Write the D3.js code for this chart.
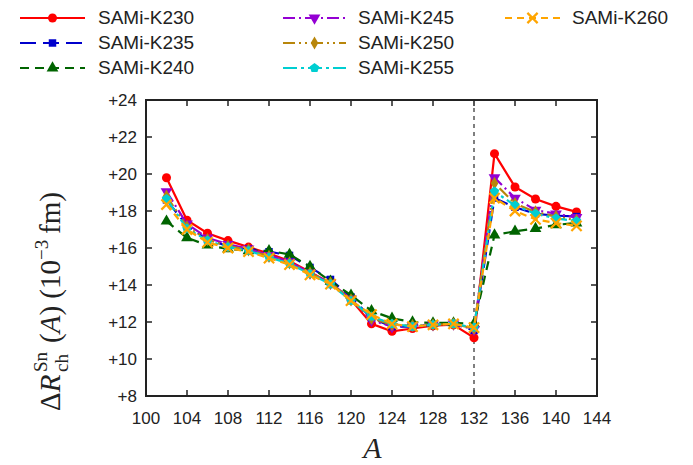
<!DOCTYPE html>
<html>
<head>
<meta charset="utf-8">
<script src="https://cdn.jsdelivr.net/npm/d3@7"></script>
<style>
body { margin: 0; background: #fff; }
text { font-family: "Liberation Sans", sans-serif; }
text.math { font-family: "Liberation Serif", serif; }
</style>
</head>
<body>
<svg id="chart" width="693" height="465"></svg>
<script>
// mass numbers
var massNumbers = [102,104,106,108,110,112,114,116,118,120,122,124,126,128,130,132,134,136,138,140,142];

var k230 = [19.8,17.5,16.8,16.4,16.05,15.7,15.3,14.7,14.1,13.2,11.9,11.5,11.65,11.8,11.85,11.15,21.1,19.3,18.65,18.25,17.95];
var k235 = [18.6,17.2,16.45,16.1,15.95,15.8,15.6,14.95,14.3,13.35,12.2,11.75,11.75,11.85,11.9,11.55,18.7,18.2,17.85,17.75,17.7];
var k240 = [17.45,16.55,16.15,15.95,15.85,15.85,15.65,15.0,14.2,13.45,12.6,12.2,12.0,11.95,11.95,11.9,16.7,16.9,17.05,17.25,17.35];
var k245 = [19.05,17.3,16.55,16.2,15.95,15.6,15.25,14.65,14.1,13.25,12.1,11.75,11.8,11.85,11.9,11.6,19.8,18.7,18.05,17.85,17.65];
var k250 = [18.8,17.15,16.45,16.1,15.9,15.55,15.2,14.65,14.1,13.2,12.2,11.85,11.8,11.85,11.9,11.65,19.5,18.4,17.95,17.7,17.5];
var k255 = [18.65,17.05,16.4,16.05,15.85,15.5,15.15,14.6,14.05,13.15,12.3,11.9,11.75,11.85,11.9,11.7,19.05,18.3,17.85,17.6,17.45];
var k260 = [18.35,17.0,16.3,16.0,15.8,15.45,15.1,14.55,14.05,13.15,12.4,11.9,11.75,11.85,11.9,11.7,18.7,18.0,17.55,17.35,17.2];

var seriesNames = ["SAMi-K230","SAMi-K235","SAMi-K240","SAMi-K245","SAMi-K250","SAMi-K255","SAMi-K260"];
var seriesValues = [k230,k235,k240,k245,k250,k255,k260];

var xTicks = [100,104,108,112,116,120,124,128,132,136,140,144];
var yTicks = [8,10,12,14,16,18,20,22,24];
var shellClosure = 132;

// styles per series
var colors = ["#ff0000","#0000cc","#006400","#9400d3","#b8860b","#00ced1","#ffa500"];
var dashes = [null,"16,7","9,6","12,4,2,4","12,4,2,4,2,4","14,4,3,4","7,5"];

var pentagon = {
	draw: function(context, size){
		var r = Math.sqrt(size / 2.378);
		for (var i = 0; i < 5; i++){
			var a = -Math.PI/2 + i * 2 * Math.PI / 5;
			if (i == 0) context.moveTo(r*Math.cos(a), r*Math.sin(a));
			else context.lineTo(r*Math.cos(a), r*Math.sin(a));
		}
		context.closePath();
	}
};
var markers = [
	{type: d3.symbolCircle, size: 64, rot: 0},
	{type: d3.symbolSquare, size: 56, rot: 0},
	{type: d3.symbolTriangle, size: 60, rot: 0},
	{type: d3.symbolTriangle, size: 60, rot: 180},
	{type: d3.symbolDiamond, size: 50, rot: 0},
	{type: pentagon, size: 60, rot: 0},
	{type: d3.symbolTimes || d3.symbolX, size: 70, rot: 0, stroke: true}
];

var margin = {top: 100, right: 96, bottom: 69, left: 146};
var width = 693 - margin.left - margin.right,
	height = 465 - margin.top - margin.bottom;

var svg = d3.select("#chart");
var chart = svg.append("g")
	.attr("transform", "translate(" + margin.left + "," + margin.top + ")");

var x = d3.scaleLinear().domain([100,144]).range([0, width]);
var y = d3.scaleLinear().domain([8,24]).range([height, 0]);

// ticks all around, pointing inward
var tickLen = 6;
chart.append("g").selectAll("line").data(xTicks).enter().append("line")
	.attr("x1", function(d){return x(d);}).attr("x2", function(d){return x(d);})
	.attr("y1", height).attr("y2", height - tickLen)
	.attr("stroke", "#222").attr("stroke-width", 1.5);
chart.append("g").selectAll("line").data(xTicks).enter().append("line")
	.attr("x1", function(d){return x(d);}).attr("x2", function(d){return x(d);})
	.attr("y1", 0).attr("y2", tickLen)
	.attr("stroke", "#222").attr("stroke-width", 1.5);
chart.append("g").selectAll("line").data(yTicks).enter().append("line")
	.attr("y1", function(d){return y(d);}).attr("y2", function(d){return y(d);})
	.attr("x1", 0).attr("x2", tickLen)
	.attr("stroke", "#222").attr("stroke-width", 1.5);
chart.append("g").selectAll("line").data(yTicks).enter().append("line")
	.attr("y1", function(d){return y(d);}).attr("y2", function(d){return y(d);})
	.attr("x1", width).attr("x2", width - tickLen)
	.attr("stroke", "#222").attr("stroke-width", 1.5);

chart.append("g").selectAll("text").data(xTicks).enter().append("text")
	.attr("x", function(d){return x(d);})
	.attr("y", height + 28)
	.attr("text-anchor", "middle")
	.style("font-size", "17px")
	.attr("fill", "#222")
	.text(function(d){return d;});
chart.append("g").selectAll("text").data(yTicks).enter().append("text")
	.attr("x", -9)
	.attr("y", function(d){return y(d) + 6;})
	.attr("text-anchor", "end")
	.style("font-size", "17px")
	.attr("fill", "#222")
	.text(function(d){return "+" + d;});

// N=82 line
chart.append("line")
	.attr("x1", x(shellClosure)).attr("x2", x(shellClosure))
	.attr("y1", 0).attr("y2", height)
	.attr("stroke", "#555").attr("stroke-width", 1.5)
	.attr("stroke-dasharray", "4,4");

var line = d3.line()
	.x(function(d, i){return x(massNumbers[i]);})
	.y(function(d){return y(d);});

function drawMarker(sel, k){
	var m = markers[k];
	sel.attr("d", d3.symbol().type(m.type).size(m.size))
		.attr("fill", m.stroke ? "none" : colors[k])
		.attr("stroke", colors[k])
		.attr("stroke-width", m.stroke ? 2.2 : 0);
}

for (var k = 0; k < seriesValues.length; k++){
	chart.append("path")
		.datum(seriesValues[k])
		.attr("d", line)
		.attr("fill", "none")
		.attr("stroke", colors[k])
		.attr("stroke-width", 2.2)
		.attr("stroke-dasharray", dashes[k]);
	chart.append("g").selectAll("path").data(seriesValues[k]).enter().append("path")
		.attr("transform", function(d, i){
			return "translate(" + x(massNumbers[i]) + "," + y(d) + ") rotate(" + markers[k].rot + ")";
		})
		.call(drawMarker, k);
}

// frame
chart.append("rect")
	.attr("width", width).attr("height", height)
	.attr("fill", "none").attr("stroke", "#222").attr("stroke-width", 2);

// axis titles
svg.append("text")
	.attr("class", "math")
	.attr("x", margin.left + x(122) + 1)
	.attr("y", 458)
	.attr("text-anchor", "middle")
	.style("font-style", "italic")
	.style("font-size", "30px")
	.attr("fill", "#222")
	.text("A");

var yl = svg.append("g")
	.attr("transform", "translate(60,263) rotate(-90)")
	.attr("fill", "#222");
var t1 = yl.append("text").attr("class", "math").attr("x", -148).attr("y", 0).style("font-size", "29px");
t1.append("tspan").text("\u0394");
t1.append("tspan").style("font-style", "italic").text("R");
yl.append("text").attr("class", "math").attr("x", -109).attr("y", -13).style("font-size", "19px").text("Sn");
yl.append("text").attr("class", "math").attr("x", -109).attr("y", 8).style("font-size", "19px").text("ch");
var t2 = yl.append("text").attr("class", "math").attr("x", -80).attr("y", 0).style("font-size", "29px");
t2.append("tspan").text("(");
t2.append("tspan").style("font-style", "italic").text("A");
t2.append("tspan").text(") (10");
t2.append("tspan").attr("dy", -12).style("font-size", "19px").text("\u22123");
t2.append("tspan").attr("dy", 12).text("\u2009fm)");

// legend
var legendCols = [{x0: 20, x1: 85, tx: 98}, {x0: 283, x1: 346, tx: 358}, {x0: 505, x1: 560, tx: 572}];
var legendSlots = [[0,0],[0,1],[0,2],[1,0],[1,1],[1,2],[2,0]];
var legend = svg.append("g");
for (var k = 0; k < seriesNames.length; k++){
	var c = legendCols[legendSlots[k][0]];
	var ly = 18 + legendSlots[k][1] * 25;
	legend.append("line")
		.attr("x1", c.x0).attr("x2", c.x1)
		.attr("y1", ly).attr("y2", ly)
		.attr("stroke", colors[k]).attr("stroke-width", 2.2)
		.attr("stroke-dasharray", dashes[k]);
	legend.append("path")
		.attr("transform", "translate(" + ((c.x0 + c.x1)/2) + "," + ly + ") rotate(" + markers[k].rot + ")")
		.call(drawMarker, k);
	legend.append("text")
		.attr("x", c.tx).attr("y", ly + 6)
		.style("font-size", "19px")
		.attr("fill", "#222")
		.text(seriesNames[k]);
}
</script>
</body>
</html>
